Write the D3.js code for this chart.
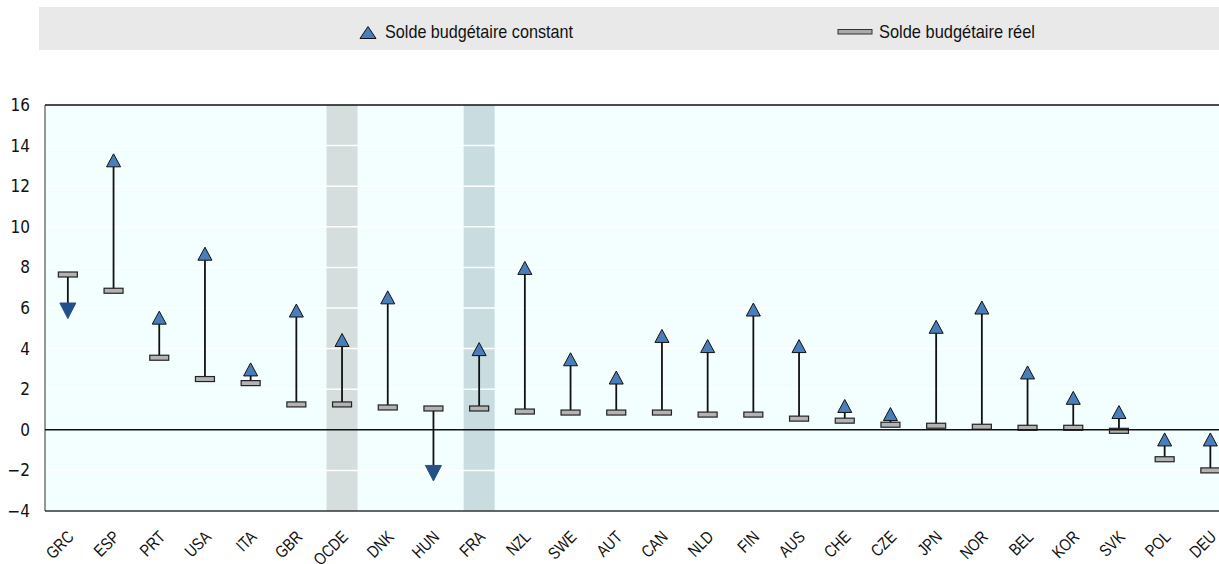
<!DOCTYPE html>
<html><head><meta charset="utf-8">
<script src="https://cdn.jsdelivr.net/npm/d3@7"></script>
<style>
body{margin:0;background:#fff;}
text{font-family:"Liberation Sans","Arial",sans-serif;}
</style></head>
<body><svg id="c" width="1219" height="564"></svg>
<script>
const categories = ["GRC","ESP","PRT","USA","ITA","GBR","OCDE","DNK","HUN","FRA","NZL","SWE","AUT","CAN","NLD","FIN","AUS","CHE","CZE","JPN","NOR","BEL","KOR","SVK","POL","DEU"];
const constantBalance = [5.9,13.25,5.5,8.65,2.95,5.85,4.4,6.5,-2.1,3.95,7.95,3.45,2.55,4.6,4.1,5.9,4.1,1.15,0.75,5.05,6.0,2.8,1.55,0.85,-0.5,-0.5];
const actualBalance = [7.65,6.85,3.55,2.5,2.3,1.25,1.25,1.1,1.05,1.05,0.9,0.85,0.85,0.85,0.75,0.75,0.55,0.45,0.25,0.2,0.15,0.1,0.1,-0.05,-1.45,-2.0];
const yTicks = [-4,-2,0,2,4,6,8,10,12,14,16];
const highlighted = [{cat:"OCDE", color:"#d5dddd"},{cat:"FRA", color:"#c9dde0"}];
const seriesNames = ["Solde budgétaire constant","Solde budgétaire réel"];

const svg = d3.select("#c");
const pLeft = 45, pTop = 105, pBottom = 511, pRight = 1219;
const step = 45.7;
const x = d3.scaleBand().domain(categories).range([pLeft, pLeft + step*categories.length]).padding(0);
const y = d3.scaleLinear().domain([-4,16]).range([pBottom, pTop]);

// legend
svg.append("rect").attr("x",39).attr("y",7).attr("width",1180).attr("height",43).attr("fill","#e9e9e9");
svg.append("path").attr("d","M0,-6.5L8,5.5L-8,5.5Z").attr("transform","translate(368,33)")
  .attr("fill","#4a7ebb").attr("stroke","#111").attr("stroke-width",1);
svg.append("text").attr("x",385).attr("y",37.5).attr("font-size",19).attr("fill","#111")
  .attr("textLength",188).attr("lengthAdjust","spacingAndGlyphs").text(seriesNames[0]);
svg.append("rect").attr("x",838).attr("y",29.5).attr("width",34).attr("height",4.5)
  .attr("fill","#aaa").attr("stroke","#333").attr("stroke-width",1);
svg.append("text").attr("x",879).attr("y",37.5).attr("font-size",19).attr("fill","#111")
  .attr("textLength",156).attr("lengthAdjust","spacingAndGlyphs").text(seriesNames[1]);

// plot background
const g = svg.append("g");
g.append("rect").attr("x",pLeft).attr("y",pTop).attr("width",pRight-pLeft).attr("height",pBottom-pTop).attr("fill","#f3ffff");
highlighted.forEach(h=>{
  const hx = x(h.cat)+x.bandwidth()/2;
  g.append("rect").attr("x",hx-15.5).attr("y",pTop).attr("width",31).attr("height",pBottom-pTop).attr("fill",h.color);
});
// grid
g.selectAll("line.grid").data(yTicks.filter(d=>d!==0 && d!==-4 && d!==16)).enter().append("line")
  .attr("x1",pLeft).attr("x2",pRight).attr("y1",d=>y(d)).attr("y2",d=>y(d))
  .attr("stroke","#ffffff").attr("stroke-width",1.5);

// y axis
const yAxis = d3.axisLeft(y).tickValues(yTicks).tickSize(0).tickPadding(15);
const ya = svg.append("g").attr("transform",`translate(${pLeft},0)`).call(yAxis);
ya.select(".domain").remove();
ya.selectAll("text").attr("fill","#111")
  .style("font-family",'"DejaVu Sans Condensed","DejaVu Sans",sans-serif').attr("font-size",17);

svg.append("line").attr("x1",pLeft).attr("x2",pRight).attr("y1",pTop).attr("y2",pTop).attr("stroke","#111").attr("stroke-width",1.5);
svg.append("line").attr("x1",pLeft).attr("x2",pRight).attr("y1",pBottom).attr("y2",pBottom).attr("stroke","#333").attr("stroke-width",1.5);
svg.append("line").attr("x1",pLeft).attr("x2",pLeft).attr("y1",pTop).attr("y2",pBottom).attr("stroke","#333").attr("stroke-width",1);
svg.append("line").attr("x1",pLeft).attr("x2",pRight).attr("y1",y(0)).attr("y2",y(0)).attr("stroke","#111").attr("stroke-width",1.5);

// x labels (rotated -45°, horizontally condensed)
const xl = svg.append("g");
xl.selectAll("g.lab").data(categories).enter().append("g")
  .attr("transform",d=>`translate(${x(d)+x.bandwidth()/2+7},${pBottom+27}) rotate(-45) scale(0.82,1)`)
  .append("text").attr("text-anchor","end").attr("font-size",17).attr("fill","#111").text(d=>d);

// marks
const data = categories.map((c,i)=>({c, k:constantBalance[i], r:actualBalance[i]}));
const cx = d => x(d.c)+x.bandwidth()/2;
const mk = g.append("g");
mk.selectAll("line.stem").data(data).enter().append("line")
  .attr("x1",cx).attr("x2",cx)
  .attr("y1",d=>y(d.r))
  .attr("y2",d=> d.k>=d.r ? y(d.k)+6 : y(d.k)-7)
  .attr("stroke","#111").attr("stroke-width",1.8);
mk.selectAll("rect.real").data(data).enter().append("rect")
  .attr("x",d=>cx(d)-9.5).attr("y",d=>y(d.r)-2.5).attr("width",19).attr("height",5)
  .attr("fill","#b3b3b3").attr("stroke","#222").attr("stroke-width",1.2);
mk.selectAll("path.const").data(data).enter().append("path")
  .attr("d",d=> d.k>=d.r ? "M0,-7L7,6L-7,6Z" : "M0,8.5L8,-7L-8,-7Z")
  .attr("transform",d=>`translate(${cx(d)},${y(d.k)})`)
  .attr("fill",d=> d.k>=d.r ? "#4a7ebb" : "#24508a")
  .attr("stroke",d=> d.k>=d.r ? "#111" : "#24508a").attr("stroke-width",1);
</script></body></html>
